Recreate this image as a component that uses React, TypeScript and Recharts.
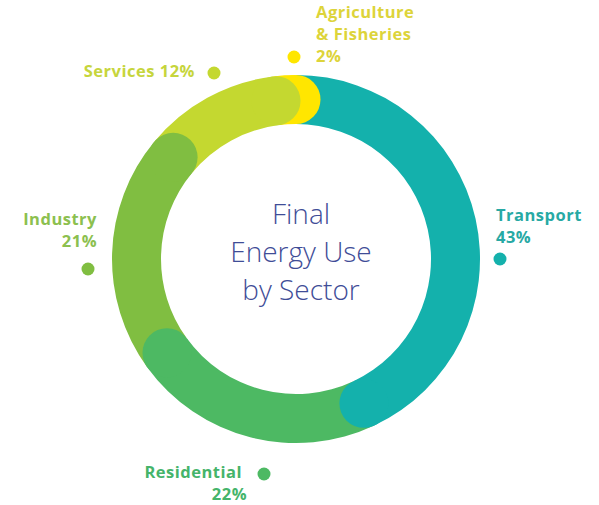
import { Cell, Pie, PieChart } from 'recharts'

// sectors run clockwise from 12 o'clock
const SECTORS = ['Transport', 'Residential', 'Industry', 'Services', 'Agriculture & Fisheries']
const SHARES = [43, 22, 21, 12, 2]
const LABEL_LINES: string[][] = [
  ['Transport', '43%'],
  ['Residential', '22%'],
  ['Industry', '21%'],
  ['Services 12%'],
  ['Agriculture', '& Fisheries', '2%'],
]
const TITLE_LINES = ['Final', 'Energy Use', 'by Sector']

const RING_COLORS: Record<string, string> = {
  Transport: '#14b1ac',
  Residential: '#4db963',
  Industry: '#80be41',
  Services: '#c4d830',
  'Agriculture & Fisheries': '#ffe600',
}

const TEXT_COLORS: Record<string, string> = {
  Transport: '#27a9a4',
  Residential: '#45b46a',
  Industry: '#8cc04f',
  Services: '#c6d53c',
  'Agriculture & Fisheries': '#ddd43a',
}

// offsets from the ring centre, px
const LABEL_LAYOUT: Record<string, { dot: [number, number]; text: [number, number]; anchor: 'start' | 'end'; ends?: number[] }> = {
  Transport: { dot: [204, 0], text: [200, -38], anchor: 'start' },
  Residential: { dot: [-32, 215], text: [-54, 219], anchor: 'end', ends: [-54, -49] },
  Industry: { dot: [-208, 10], text: [-199, -34], anchor: 'end' },
  Services: { dot: [-82, -186], text: [-101, -182], anchor: 'end' },
  'Agriculture & Fisheries': { dot: [-2, -202], text: [20, -241], anchor: 'start' },
}

const CX = 296
const CY = 259
const INNER = 135
const OUTER = 184
const LINE_H = 22
const FONT = '"Open Sans", "DejaVu Sans", sans-serif'

const data = SECTORS.map((name, i) => ({ name, value: SHARES[i] }))
// same ring, listed counter-clockwise so each cap sits at the sector's start
const capData = [...data].reverse()

function SectorLabel(props: any) {
  const { cx, cy, index } = props
  const name = SECTORS[index]
  const lay = LABEL_LAYOUT[name]
  return (
    <g>
      <circle cx={cx + lay.dot[0]} cy={cy + lay.dot[1]} r={6.5} fill={RING_COLORS[name]} />
      <text
        textAnchor={lay.anchor}
        fill={TEXT_COLORS[name]}
        fontFamily={FONT}
        fontSize={16.5}
        fontWeight={700}
        letterSpacing={0.5}
      >
        {LABEL_LINES[index].map((line, j) => (
          <tspan key={j} x={cx + (lay.ends ? lay.ends[j] : lay.text[0])} y={cy + lay.text[1] + j * LINE_H}>
            {line}
          </tspan>
        ))}
      </text>
    </g>
  )
}

function RoundCap(props: any) {
  const { cx, cy, startAngle, payload } = props
  const name = payload?.name ?? props.name
  const r = (INNER + OUTER) / 2
  const rad = (startAngle * Math.PI) / 180
  return (
    <circle
      cx={cx + r * Math.cos(rad)}
      cy={cy - r * Math.sin(rad)}
      r={(OUTER - INNER) / 2}
      fill={RING_COLORS[name]}
    />
  )
}

export default function App() {
  return (
    <div style={{ position: 'absolute', left: 0, top: 0, width: 599, height: 505, background: '#fff' }}>
      <PieChart width={599} height={505} margin={{ top: 0, right: 0, bottom: 0, left: 0 }}>
        <Pie
          data={data}
          dataKey="value"
          nameKey="name"
          cx={CX}
          cy={CY}
          innerRadius={INNER}
          outerRadius={OUTER}
          startAngle={90}
          endAngle={-270}
          stroke="none"
          label={SectorLabel}
          labelLine={false}
          isAnimationActive={false}
        >
          {data.map((d) => (
            <Cell key={d.name} fill={RING_COLORS[d.name]} />
          ))}
        </Pie>
        <Pie
          data={capData}
          dataKey="value"
          nameKey="name"
          cx={CX}
          cy={CY}
          innerRadius={INNER}
          outerRadius={OUTER}
          startAngle={90}
          endAngle={450}
          fill="none"
          stroke="none"
          label={RoundCap}
          labelLine={false}
          isAnimationActive={false}
        />
        <text textAnchor="middle" fill="#3f4d97" fontFamily={FONT} fontSize={28} fontWeight={300}>
          {TITLE_LINES.map((line, j) => (
            <tspan key={j} x={CX + 5} y={224 + j * 38}>
              {line}
            </tspan>
          ))}
        </text>
      </PieChart>
    </div>
  )
}
